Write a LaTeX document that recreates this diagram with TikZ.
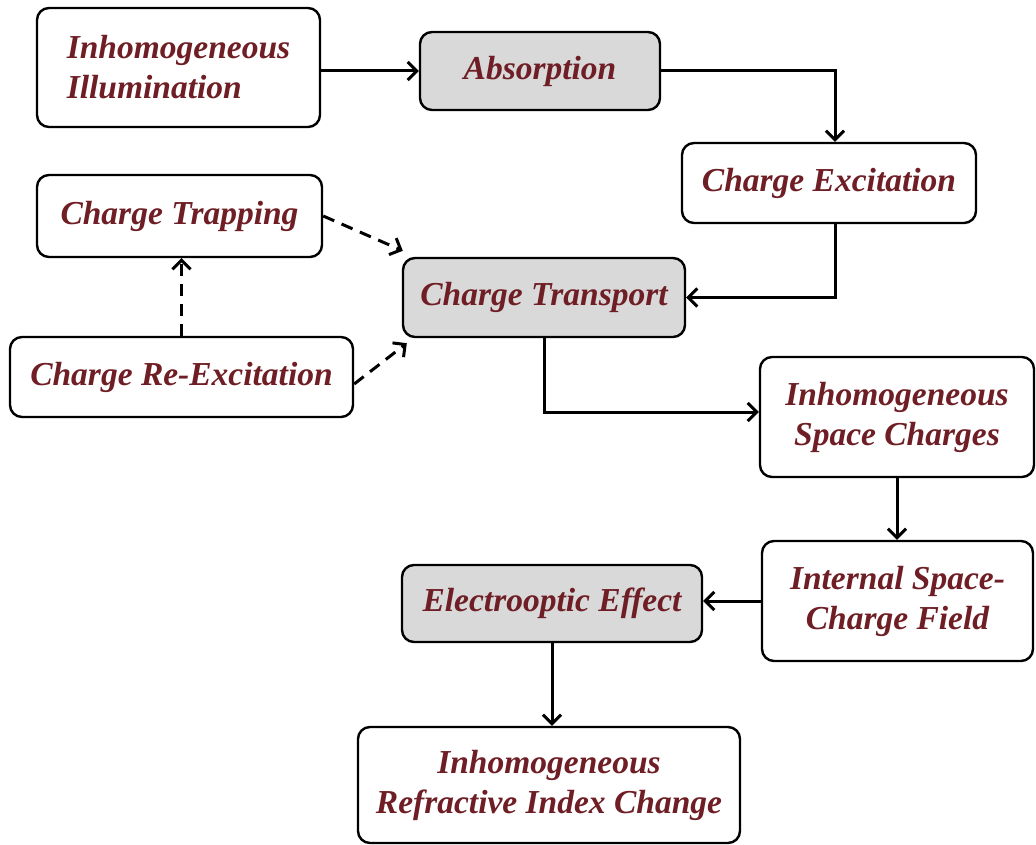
\documentclass[tikz,border=0pt]{standalone}
\usepackage{fontspec}
\setmainfont{Liberation Serif}
\usetikzlibrary{arrows.meta}
\definecolor{txt}{HTML}{6E1E24}
\definecolor{boxgray}{HTML}{D9D9D9}
\tikzset{
  box/.style={draw=black, line width=2.4pt, rounded corners=12pt, fill=white,
    text=txt, font=\fontsize{33.5}{40}\selectfont\bfseries\itshape,
    align=left, inner sep=0pt},
  graybox/.style={box, fill=boxgray},
  conn/.style={draw=black, line width=3pt, -{Straight Barb[length=9pt,width=18pt,line width=3pt]}},
  dconn/.style={conn, dash pattern=on 12pt off 8pt}
}
\begin{document}
\begin{tikzpicture}[x=1pt,y=-1pt]
\useasboundingbox (0,0) rectangle (1036,845);
\node[box, minimum width=283pt, minimum height=119pt] (illum) at (178.5,67.5) {Inhomogeneous\\Illumination};
\node[graybox, minimum width=240pt, minimum height=78pt] (absorb) at (540,71) {Absorption};
\node[box, minimum width=294pt, minimum height=80pt] (excite) at (829,183) {Charge Excitation};
\node[box, minimum width=285pt, minimum height=82pt] (trap) at (179.5,216) {Charge Trapping};
\node[graybox, minimum width=282pt, minimum height=79pt] (transport) at (544,297.5) {Charge Transport};
\node[box, minimum width=343pt, minimum height=80pt] (reexc) at (181.5,377) {Charge Re-Excitation};
\node[box, minimum width=274pt, minimum height=120pt, align=center] (spacech) at (897,417) {Inhomogeneous\\Space Charges};
\node[box, minimum width=271pt, minimum height=120pt, align=center] (field) at (897.5,601) {Internal Space-\\Charge Field};
\node[graybox, minimum width=300pt, minimum height=77pt] (electro) at (552,603.5) {Electrooptic Effect};
\node[box, minimum width=382pt, minimum height=116pt, align=center] (refr) at (549,785) {Inhomogeneous\\Refractive Index Change};

\draw[conn] (absorb.west -| illum.east) -- (absorb.west);
\draw[conn] (absorb.east) -| ([xshift=6pt]excite.north);
\draw[conn] ([xshift=6pt]excite.south) |- (transport.east);
\draw[conn] (transport.south) |- ([yshift=5pt]spacech.west);
\draw[conn] (spacech.south) -- (spacech.south |- field.north);
\draw[conn] (field.west) -- (field.west -| electro.east);
\draw[conn] (electro.south) -- (electro.south |- refr.north);
\draw[dconn] (trap.east) -- ([xshift=1pt,yshift=6pt]transport.north west);
\draw[dconn] ([yshift=-7pt]reexc.east) -- ([xshift=5pt,yshift=-5pt]transport.south west);
\draw[dconn] (reexc.north) -- (reexc.north |- trap.south);
\end{tikzpicture}
\end{document}
